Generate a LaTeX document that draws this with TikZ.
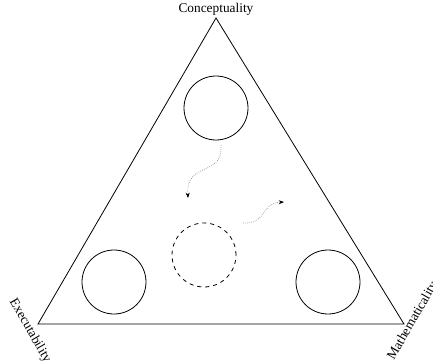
\documentclass[tikz,border=0pt]{standalone}
\usepackage{fontspec}
\setmainfont{Liberation Serif}
\usetikzlibrary{positioning,calc,arrows.meta}

\begin{document}
\begin{tikzpicture}[x=0.75pt, y=-0.75pt, >={Stealth[length=4pt,width=3pt,black]}, line width=0.6pt, ball/.style = {circle, draw, fill=none, minimum size=48pt, inner sep=0pt}, ghost/.style = {ball, dashed}, drift/.style = {->, densely dotted, gray, line width=0.5pt}, axis/.style = {font=\fontsize{10}{12}\selectfont, inner sep=0pt}]

\useasboundingbox (0,0) rectangle (433,362);

% corners of the triangle
\coordinate (c) at (216,18);
\coordinate (e) at (38,324);
\coordinate (m) at (404,324);
\draw (c) -- (e) -- (m) -- cycle;

\node[axis] (cl) at (216,9) {Conceptuality};
\node[axis, rotate=-60] (el) at (30,331) {Executability};
\node[axis, rotate=60] (ml) at (413,321) {Mathematicality};

\node[ball] (top) at (216,108) {};
\node[ball] (left) at (114,282) {};
\node[ball] (right) at (328,282) {};
\node[ghost] (mid) at (204,255) {};

\coordinate (s1) at (221,145);
\coordinate (t1) at (188,198);
\coordinate (s2) at (243,223);
\coordinate (t2) at (284,202);

\draw[drift] (s1) .. controls (223,178) and (186,160) .. (t1);
\draw[drift] (s2) .. controls (268,224) and (260,203) .. (t2);
\end{tikzpicture}
\end{document}
